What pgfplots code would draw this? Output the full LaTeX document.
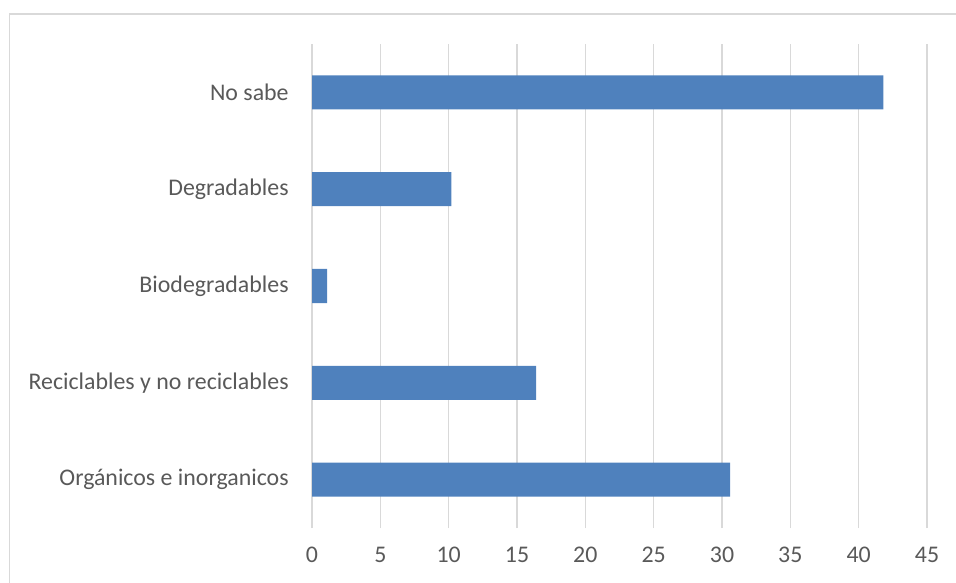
\documentclass[border=0pt]{standalone}
\usepackage{pgfplots}
\pgfplotsset{compat=1.18}
\usepackage{fontspec}
\setmainfont{Carlito}
\definecolor{barblue}{HTML}{4F81BD}
\definecolor{gridgray}{HTML}{D9D9D9}
\definecolor{txtgray}{HTML}{595959}
\begin{document}
\begin{tikzpicture}
\useasboundingbox (0,0) rectangle (717pt,436.5pt);
\draw[gridgray, line width=1pt] (7.1pt,-5pt) -- (7.1pt,426pt) -- (725pt,426pt);
\begin{axis}[
  at={(234pt,40.5pt)}, anchor=south west,
  scale only axis, width=461.25pt, height=363pt,
  xbar, bar width=25.5pt,
  xmin=0, xmax=45, ymin=-0.5, ymax=4.5,
  xtick={0,5,...,45},
  ytick={0,1,2,3,4},
  yticklabels={Orgánicos e inorganicos, Reciclables y no reciclables, Biodegradables, Degradables, No sabe},
  axis line style={draw=none},
  major tick length=0pt,
  xmajorgrids, grid style={gridgray, line width=1pt},
  ymajorgrids=false,
  /pgf/number format/assume math mode=true,
  tick label style={font=\fontsize{17.9}{21}\selectfont, text=txtgray},
  xticklabel style={yshift=-11pt},
  yticklabel style={xshift=-14pt},
]
\addplot[fill=barblue, draw=none] coordinates {(30.6,0) (16.4,1) (1.1,2) (10.2,3) (41.8,4)};
\end{axis}
\end{tikzpicture}
\end{document}
